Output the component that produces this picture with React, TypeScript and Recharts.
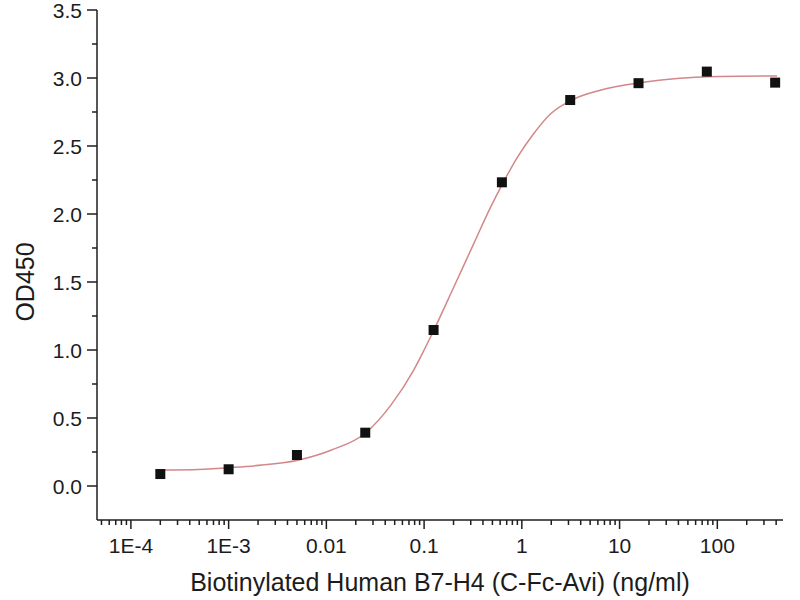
import React from "react";
import { ComposedChart, Line, Scatter, XAxis, YAxis } from "recharts";

// measured points (ng/ml, OD450)
const concentrations = [0.0002, 0.001, 0.005, 0.025, 0.125, 0.625, 3.125, 15.625, 78.125, 390.625];
const odValues = [0.088, 0.123, 0.228, 0.392, 1.147, 2.233, 2.838, 2.962, 3.047, 2.966];

// fitted curve
const curveX = [
  0.0002, 0.00043, 0.001, 0.0022, 0.0051, 0.0113, 0.0252, 0.0463, 0.0793, 0.1, 0.126, 0.202,
  0.323, 0.482, 0.638, 0.906, 1.32, 1.96, 3.29, 6.34, 16.1, 41.2, 81.3, 409,
];
const curveY = [
  0.118, 0.12, 0.135, 0.154, 0.19, 0.265, 0.39, 0.6, 0.86, 1.0, 1.147, 1.465,
  1.784, 2.054, 2.225, 2.42, 2.59, 2.735, 2.84, 2.91, 2.965, 2.998, 3.01, 3.015,
];

const xMajorTicks = [0.0001, 0.001, 0.01, 0.1, 1, 10, 100];
const xMajorLabels = ["1E-4", "1E-3", "0.01", "0.1", "1", "10", "100"];
const yMajorTicks = [0, 0.5, 1, 1.5, 2, 2.5, 3, 3.5];
const yMinorTicks = [0.25, 0.75, 1.25, 1.75, 2.25, 2.75, 3.25];

const xMinorTicks: number[] = [];
[0.00001, 0.0001, 0.001, 0.01, 0.1, 1, 10, 100].forEach((d) => {
  for (let m = 2; m <= 9; m++) {
    const v = d * m;
    if (v > 4.5e-5 && v < 470) xMinorTicks.push(v);
  }
});

const pointData = concentrations.map((x, i) => ({ x, y: odValues[i] }));
const curveData = curveX.map((x, i) => ({ x, y: curveY[i] }));

const FONT = "'Liberation Sans', Arial, sans-serif";
const TEXT = "#1c1c1c";
const AXIS = "#1e1e1e";

function majorIndex(v: number) {
  return xMajorTicks.findIndex((t) => Math.abs(t - v) / t < 1e-6);
}

function XTick(props: any) {
  const { x, y, payload } = props;
  const idx = majorIndex(payload.value);
  const major = idx >= 0;
  return (
    <g>
      <line x1={x} y1={y} x2={x} y2={y + (major ? 9 : 5)} stroke={AXIS} strokeWidth={1.5} />
      {major && (
        <text x={x} y={y + 33} textAnchor="middle" fontSize={21} fill={TEXT} fontFamily={FONT}>
          {xMajorLabels[idx]}
        </text>
      )}
    </g>
  );
}

function YTick(props: any) {
  const { x, y, payload } = props;
  const v = payload.value;
  const major = yMajorTicks.includes(v);
  return (
    <g>
      <line x1={x - (major ? 10 : 5)} y1={y} x2={x} y2={y} stroke={AXIS} strokeWidth={1.5} />
      {major && (
        <text x={x - 15} y={y + 7.5} textAnchor="end" fontSize={21} fill={TEXT} fontFamily={FONT}>
          {v.toFixed(1)}
        </text>
      )}
    </g>
  );
}

function YTitle() {
  return (
    <text
      x={34}
      y={282}
      transform="rotate(-90, 34, 282)"
      textAnchor="middle"
      fontSize={25}
      fill={TEXT}
      fontFamily={FONT}
    >
      OD450
    </text>
  );
}

function Square(props: any) {
  const { cx, cy } = props;
  return <rect x={cx - 5} y={cy - 5} width={10} height={10} fill="#111" />;
}

export default function App() {
  return (
    <div style={{ position: "absolute", left: 0, top: 0, width: 800, height: 600, background: "#fff" }}>
      <ComposedChart width={800} height={600} margin={{ top: 10, right: 17, bottom: 0, left: 0 }}>
        <XAxis
          dataKey="x"
          type="number"
          scale="log"
          domain={[4.5e-5, 470]}
          allowDataOverflow
          ticks={[...xMajorTicks, ...xMinorTicks]}
          interval={0}
          tickSize={0}
          tickMargin={0}
          tick={<XTick />}
          height={80}
          stroke={AXIS}
          strokeWidth={1.5}
          label={{
            value: "Biotinylated Human B7-H4 (C-Fc-Avi) (ng/ml)",
            position: "insideBottom",
            offset: 9,
            fontSize: 25,
            fill: TEXT,
            fontFamily: FONT,
          }}
        />
        <YAxis
          dataKey="y"
          type="number"
          domain={[-0.25, 3.5]}
          allowDataOverflow
          ticks={[...yMajorTicks, ...yMinorTicks]}
          interval={0}
          tickSize={0}
          tickMargin={0}
          tick={<YTick />}
          width={97}
          stroke={AXIS}
          strokeWidth={1.5}
          label={{ content: () => <YTitle /> }}
        />
        <Line
          data={curveData}
          dataKey="y"
          type="monotone"
          stroke="#d4878a"
          strokeWidth={1.5}
          dot={false}
          activeDot={false}
          isAnimationActive={false}
        />
        <Scatter data={pointData} dataKey="y" shape={<Square />} isAnimationActive={false} />
      </ComposedChart>
    </div>
  );
}
